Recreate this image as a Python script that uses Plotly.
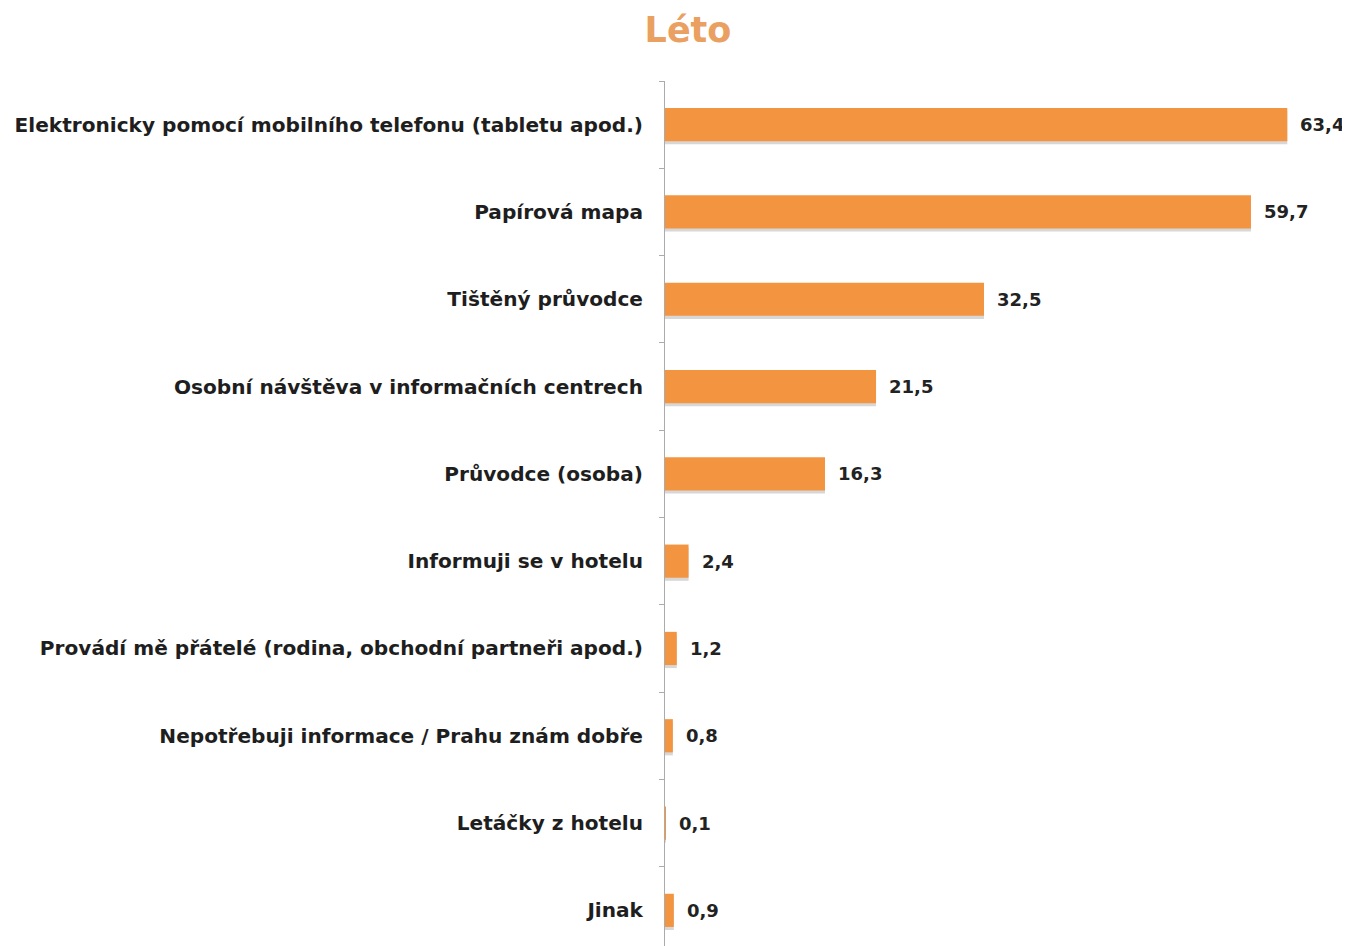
import plotly.graph_objects as go

categories = [
    "Elektronicky pomocí mobilního telefonu (tabletu apod.)",
    "Papírová mapa",
    "Tištěný průvodce",
    "Osobní návštěva v informačních centrech",
    "Průvodce (osoba)",
    "Informuji se v hotelu",
    "Provádí mě přátelé (rodina, obchodní partneři apod.)",
    "Nepotřebuji informace / Prahu znám dobře",
    "Letáčky z hotelu",
    "Jinak",
]
values = [63.4, 59.7, 32.5, 21.5, 16.3, 2.4, 1.2, 0.8, 0.1, 0.9]
title = "Léto"

BAR = "#F39441"
FONT = "DejaVu Sans, Verdana, sans-serif"

fig = go.Figure()
# soft shadow under each bar
fig.add_trace(go.Bar(
    y=categories, x=values, orientation="h",
    marker=dict(color="rgba(140,140,140,0.35)", line=dict(width=0)),
    width=0.38, offset=-0.155, hoverinfo="skip",
))
fig.add_trace(go.Bar(
    y=categories, x=values, orientation="h",
    marker=dict(color=BAR, line=dict(width=0)),
    width=0.38, offset=-0.19, hoverinfo="skip",
))

for c, v in zip(categories, values):
    fig.add_annotation(
        x=v, y=c, xref="x", yref="y",
        text="<b>" + f"{v:.1f}".replace(".", ",") + "</b>",
        showarrow=False, xanchor="left", xshift=11,
        font=dict(family=FONT, size=18, color="#222222"),
    )

fig.update_layout(
    width=1350, height=946,
    paper_bgcolor="white", plot_bgcolor="white",
    margin=dict(l=657, r=2, t=73, b=0, autoexpand=False),
    barmode="overlay",
    showlegend=False,
    title=dict(text="<b>" + title + "</b>", x=(688 - 8) / 1350, xanchor="center",
               y=1 - (30 - 8) / 946, yanchor="middle",
               font=dict(family=FONT, size=35, color="#EAA060")),
    font=dict(family=FONT),
)
fig.update_xaxes(range=[0, 70.4], visible=False, showgrid=False, zeroline=False)
fig.update_yaxes(
    autorange="reversed", type="category", automargin=False,
    showline=True, linecolor="#ABABAB", linewidth=1,
    ticks="outside", tickson="boundaries", ticklen=5, tickcolor="#ABABAB",
    ticklabelstandoff=17,
    tickfont=dict(family=FONT, size=20.1, color="#1e1e1e", weight="bold"),
    showgrid=False,
)

fig.write_html("out.html")
